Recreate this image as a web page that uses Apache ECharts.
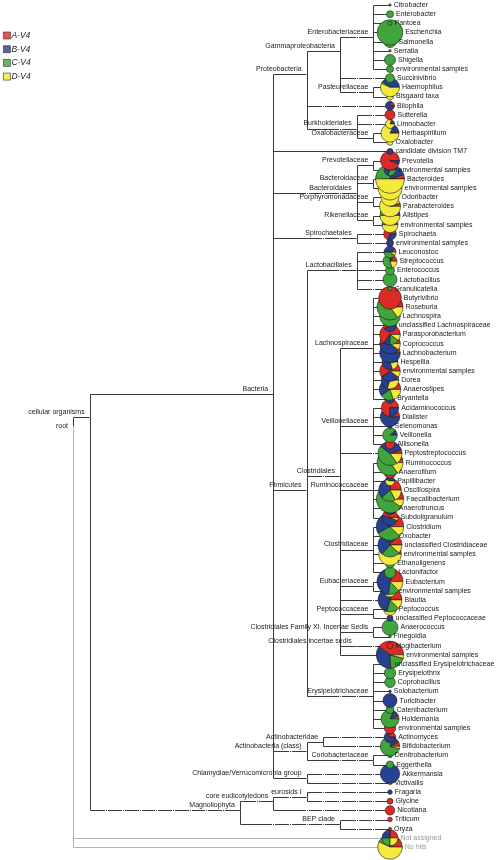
<!DOCTYPE html>
<html><head><meta charset="utf-8">
<script src="https://cdn.jsdelivr.net/npm/echarts@6/dist/echarts.min.js"></script>
<style>html,body{margin:0;padding:0;background:#fff}#c{width:502px;height:860px}</style>
</head><body><div id="c"></div>
<script>
// ---------------- data ----------------
const sampleNames = ['A-V4', 'B-V4', 'C-V4', 'D-V4'];

// internal taxa: name, parent, number of unlabeled ranks between node and its parent
const nodeNames = ['root', 'cellular organisms', 'Bacteria', 'Proteobacteria', 'Gammaproteobacteria',
  'Enterobacteriaceae', 'Pasteurellaceae', 'Burkholderiales', 'Oxalobacteraceae', 'Bacteroidales',
  'Prevotellaceae', 'Bacteroidaceae', 'Porphyromonadaceae', 'Rikenellaceae', 'Spirochaetales',
  'Firmicutes', 'Lactobacillales', 'Clostridiales', 'Lachnospiraceae', 'Veillonellaceae',
  'Ruminococcaceae', 'Clostridiaceae', 'Eubacteriaceae', 'Peptococcaceae',
  'Clostridiales Family XI. Incertae Sedis', 'Clostridiales incertae sedis', 'Erysipelotrichaceae',
  'Actinobacteria (class)', 'Actinobacteridae', 'Coriobacteriaceae', 'Chlamydiae/Verrucomicrobia group',
  'Magnoliophyta', 'core eudicotyledons', 'eurosids I', 'BEP clade'];
const nodeParents = [null, 'root', 'cellular organisms', 'Bacteria', 'Proteobacteria',
  'Gammaproteobacteria', 'Gammaproteobacteria', 'Proteobacteria', 'Burkholderiales', 'Bacteria',
  'Bacteroidales', 'Bacteroidales', 'Bacteroidales', 'Bacteroidales', 'Bacteria',
  'Bacteria', 'Firmicutes', 'Firmicutes', 'Clostridiales', 'Clostridiales',
  'Clostridiales', 'Clostridiales', 'Clostridiales', 'Clostridiales',
  'Clostridiales', 'Clostridiales', 'Firmicutes',
  'Bacteria', 'Actinobacteria (class)', 'Actinobacteria (class)', 'Bacteria',
  'cellular organisms', 'Magnoliophyta', 'core eudicotyledons', 'Magnoliophyta'];
const nodeHidden = [0, 0, 0, 0, 0,
  1, 1, 1, 0, 3,
  0, 0, 0, 0, 2,
  0, 1, 1, 0, 0,
  0, 0, 0, 0,
  0, 0, 2,
  1, 0, 2, 0,
  8, 1, 1, 4];

// leaves (top to bottom)
const leafNames = ['Citrobacter', 'Enterobacter', 'Pantoea', 'Escherichia', 'Salmonella', 'Serratia', 'Shigella', 'environmental samples',
  'Succinivibrio', 'Haemophilus', 'Bisgaard taxa', 'Bilophila', 'Sutterella', 'Limnobacter', 'Herbaspirillum', 'Oxalobacter',
  'candidate division TM7', 'Prevotella', 'environmental samples', 'Bacteroides', 'environmental samples', 'Odoribacter',
  'Parabacteroides', 'Alistipes', 'environmental samples', 'Spirochaeta', 'environmental samples',
  'Leuconostoc', 'Streptococcus', 'Enterococcus', 'Lactobacillus', 'Granulicatella',
  'Butyrivibrio', 'Roseburia', 'Lachnospira', 'unclassified Lachnospiraceae', 'Parasporobacterium', 'Coprococcus',
  'Lachnobacterium', 'Hespellia', 'environmental samples', 'Dorea', 'Anaerostipes', 'Bryantella',
  'Acidaminococcus', 'Dialister', 'Selenomonas', 'Veillonella', 'Allisonella', 'Peptostreptococcus',
  'Ruminococcus', 'Anaerofilum', 'Papillibacter', 'Oscillospira', 'Faecalibacterium', 'Anaerotruncus', 'Subdoligranulum',
  'Clostridium', 'Oxobacter', 'unclassified Clostridiaceae', 'environmental samples', 'Ethanoligenens', 'Lactonifactor',
  'Eubacterium', 'environmental samples', 'Blautia', 'Peptococcus', 'unclassified Peptococcaceae',
  'Anaerococcus', 'Finegoldia', 'Mogibacterium', 'environmental samples',
  'unclassified Erysipelotrichaceae', 'Erysipelothrix', 'Coprobacillus', 'Solobacterium', 'Turicibacter',
  'Catenibacterium', 'Holdemania', 'environmental samples',
  'Actinomyces', 'Bifidobacterium', 'Denitrobacterium', 'Eggerthella', 'Akkermansia', 'Victivallis',
  'Fragaria', 'Glycine', 'Nicotiana', 'Triticum', 'Oryza', 'Not assigned', 'No hits'];
const leafParents = ['Enterobacteriaceae', 'Enterobacteriaceae', 'Enterobacteriaceae', 'Enterobacteriaceae', 'Enterobacteriaceae', 'Enterobacteriaceae', 'Enterobacteriaceae', 'Enterobacteriaceae',
  'Gammaproteobacteria', 'Pasteurellaceae', 'Pasteurellaceae', 'Proteobacteria', 'Burkholderiales', 'Burkholderiales', 'Oxalobacteraceae', 'Oxalobacteraceae',
  'Bacteria', 'Prevotellaceae', 'Prevotellaceae', 'Bacteroidaceae', 'Bacteroidaceae', 'Porphyromonadaceae',
  'Porphyromonadaceae', 'Rikenellaceae', 'Rikenellaceae', 'Spirochaetales', 'Spirochaetales',
  'Lactobacillales', 'Lactobacillales', 'Lactobacillales', 'Lactobacillales', 'Lactobacillales',
  'Lachnospiraceae', 'Lachnospiraceae', 'Lachnospiraceae', 'Lachnospiraceae', 'Lachnospiraceae', 'Lachnospiraceae',
  'Lachnospiraceae', 'Lachnospiraceae', 'Lachnospiraceae', 'Lachnospiraceae', 'Lachnospiraceae', 'Lachnospiraceae',
  'Veillonellaceae', 'Veillonellaceae', 'Veillonellaceae', 'Veillonellaceae', 'Veillonellaceae', 'Clostridiales',
  'Ruminococcaceae', 'Ruminococcaceae', 'Ruminococcaceae', 'Ruminococcaceae', 'Ruminococcaceae', 'Ruminococcaceae', 'Ruminococcaceae',
  'Clostridiaceae', 'Clostridiaceae', 'Clostridiaceae', 'Clostridiaceae', 'Clostridiaceae', 'Clostridiaceae',
  'Eubacteriaceae', 'Eubacteriaceae', 'Clostridiales', 'Peptococcaceae', 'Peptococcaceae',
  'Clostridiales Family XI. Incertae Sedis', 'Clostridiales Family XI. Incertae Sedis', 'Clostridiales incertae sedis', 'Clostridiales',
  'Erysipelotrichaceae', 'Erysipelotrichaceae', 'Erysipelotrichaceae', 'Erysipelotrichaceae', 'Erysipelotrichaceae',
  'Erysipelotrichaceae', 'Erysipelotrichaceae', 'Erysipelotrichaceae',
  'Actinobacteridae', 'Actinobacteridae', 'Coriobacteriaceae', 'Coriobacteriaceae', 'Chlamydiae/Verrucomicrobia group', 'Chlamydiae/Verrucomicrobia group',
  'eurosids I', 'eurosids I', 'core eudicotyledons', 'BEP clade', 'BEP clade', 'root', 'root'];
const leafHidden = [0, 0, 0, 0, 0, 0, 0, 0,
  2, 0, 0, 4, 1, 1, 0, 0,
  0, 0, 0, 0, 0, 0,
  0, 0, 0, 1, 1,
  1, 1, 1, 1, 1,
  0, 0, 0, 0, 0, 0,
  0, 0, 0, 0, 0, 0,
  0, 0, 0, 0, 0, 1,
  0, 0, 0, 0, 0, 0, 0,
  0, 0, 0, 0, 0, 0,
  0, 0, 1, 0, 0,
  0, 0, 1, 0,
  0, 0, 0, 0, 0,
  0, 0, 0,
  3, 2, 0, 0, 4, 3,
  4, 4, 5, 2, 2, 0, 0];
const unassignedLeaves = ['Not assigned', 'No hits'];

// read counts per sample for each leaf (estimated from the pie areas)
const countsA = [0, 0, 0, 0, 0, 0, 0, 0,
  0, 0, 0, 16, 100, 8, 10, 0,
  0, 340, 43, 42, 0, 0,
  22, 0, 0, 111, 0,
  14, 29, 0, 0, 0,
  511, 203, 0, 95, 276, 212,
  127, 0, 254, 121, 92, 44,
  227, 56, 0, 0, 88, 29,
  34, 159, 0, 128, 105, 80, 120,
  135, 0, 130, 25, 0, 0,
  120, 0, 120, 40, 0,
  0, 0, 36, 300,
  0, 0, 0, 0, 0,
  0, 20, 130,
  40, 30, 0, 0, 0, 0,
  0, 36, 88, 21, 9, 64, 130];
const countsB = [0, 0, 0, 0, 0, 0, 0, 0,
  0, 144, 5, 65, 0, 8, 50, 0,
  36, 21, 58, 168, 58, 0,
  0, 20, 26, 48, 49,
  58, 20, 0, 0, 0,
  0, 0, 0, 64, 42, 170,
  297, 205, 127, 91, 183, 44,
  76, 320, 21, 26, 0, 202,
  203, 0, 40, 189, 53, 79, 120,
  300, 159, 236, 25, 0, 0,
  375, 10, 288, 15, 36,
  0, 0, 0, 270,
  0, 0, 0, 7, 196,
  0, 40, 0,
  90, 38, 0, 0, 376, 0,
  21, 0, 0, 0, 0, 64, 60];
const countsC = [6, 49, 16, 655, 144, 6, 121, 49,
  81, 11, 0, 0, 0, 0, 0, 0,
  0, 0, 43, 210, 0, 0,
  0, 180, 102, 0, 0,
  58, 108, 81, 196, 16,
  0, 372, 424, 0, 64, 0,
  0, 0, 0, 0, 92, 0,
  0, 0, 0, 187, 0, 259,
  338, 0, 0, 107, 518, 0, 0,
  225, 0, 144, 128, 88, 130,
  95, 89, 96, 34, 0,
  256, 7, 0, 150,
  21, 130, 112, 0, 0,
  64, 264, 0,
  0, 293, 21, 55, 0, 8,
  0, 0, 0, 0, 0, 64, 70];
const countsD = [0, 0, 0, 0, 0, 0, 0, 0,
  0, 206, 44, 0, 0, 65, 264, 36,
  0, 0, 0, 421, 518, 324,
  419, 200, 128, 0, 0,
  14, 39, 0, 0, 0,
  0, 101, 0, 0, 42, 42,
  0, 51, 43, 91, 91, 0,
  0, 0, 0, 0, 0, 86,
  101, 0, 48, 87, 75, 0, 16,
  91, 0, 66, 333, 0, 0,
  86, 60, 72, 70, 0,
  0, 0, 0, 31,
  0, 0, 0, 0, 0,
  0, 0, 0,
  0, 15, 0, 0, 0, 8,
  0, 0, 0, 0, 0, 64, 345];

// ---------------- layout from the tree ----------------
const sampleColors = ['#dc2b25', '#28418f', '#40a63c', '#f3ea3d'];
const idxOf = {}; nodeNames.forEach((n, i) => idxOf[n] = i);
const kids = nodeNames.map(() => []);
leafParents.forEach((p, i) => kids[idxOf[p]].push({ leaf: true, i }));
nodeParents.forEach((p, i) => { if (p !== null) kids[idxOf[p]].push({ leaf: false, i }); });
const H = [], LO = [], HI = [];
function walk(i) {
  let h = 0, lo = Infinity, hi = -Infinity;
  for (const k of kids[i]) {
    if (k.leaf) { h = Math.max(h, 1 + leafHidden[k.i]); lo = Math.min(lo, k.i); hi = Math.max(hi, k.i); }
    else { walk(k.i); h = Math.max(h, H[k.i] + 1 + nodeHidden[k.i]); lo = Math.min(lo, LO[k.i]); hi = Math.max(hi, HI[k.i]); }
  }
  H[i] = h; LO[i] = lo; HI[i] = hi;
}
walk(0);
const NY = i => (LO[i] + HI[i]) / 2;
const maxH = H[0];
const nLeaves = leafNames.length;

const edgeData = [], dotData = [];
leafParents.forEach((p, i) => {
  const pi = idxOf[p];
  const gray = unassignedLeaves.includes(leafNames[i]) ? 1 : 0;
  edgeData.push([H[pi], NY(pi), 0, i, gray]);
  for (let j = 1; j <= leafHidden[i]; j++) dotData.push([j, i]);
});
nodeParents.forEach((p, i) => {
  if (p === null) return;
  const pi = idxOf[p];
  edgeData.push([H[pi], NY(pi), H[i], NY(i), 0]);
  for (let j = 1; j <= nodeHidden[i]; j++) dotData.push([H[i] + j, NY(i)]);
});
edgeData.sort((a, b) => b[4] - a[4]);
const nodeLabelData = nodeNames.map((n, i) => [H[i], NY(i), n, nodeParents[i] === null ? 1 : 0]);
const pieData = leafNames.map((n, i) => [0, i, countsA[i], countsB[i], countsC[i], countsD[i], n,
  unassignedLeaves.includes(n) ? 1 : 0]);
const pieDraw = pieData.slice().reverse(); // upper pies end up on top

// ---------------- chart ----------------
const FONT = '"Liberation Sans", Arial, sans-serif';
const crisp = v => Math.round(v) + 0.5;
const chart = echarts.init(document.getElementById('c'));
const radius = (d) => Math.sqrt(d[2] + d[3] + d[4] + d[5]) / 2;

const series = [
  {
    type: 'custom', name: 'edges', silent: true, clip: false, z: 1,
    renderItem(params, api) {
      const p = api.coord([api.value(0), api.value(1)]);
      const c = api.coord([api.value(2), api.value(3)]);
      const gray = api.value(4) === 1;
      return {
        type: 'polyline',
        shape: { points: [[crisp(p[0]), crisp(p[1])], [crisp(p[0]), crisp(c[1])], [c[0], crisp(c[1])]] },
        style: { stroke: gray ? '#b4b4b4' : '#3a3a3a', lineWidth: 1, fill: null }
      };
    },
    data: edgeData
  },
  {
    type: 'custom', name: 'hidden', silent: true, clip: false, z: 2,
    renderItem(params, api) {
      const p = api.coord([api.value(0), api.value(1)]);
      return {
        type: 'group', children: [
          { type: 'rect', shape: { x: Math.round(p[0]) - 1, y: Math.round(p[1]) - 1, width: 3, height: 3 }, style: { fill: '#fff' } },
          { type: 'rect', shape: { x: Math.round(p[0]), y: Math.round(p[1]), width: 1, height: 1 }, style: { fill: '#3a3a3a' } }
        ]
      };
    },
    data: dotData
  },
  {
    type: 'custom', name: 'pies', silent: true, clip: false, z: 3,
    renderItem(params, api) {
      const d = pieDraw[params.dataIndex];
      const c = api.coord([d[0], d[1]]);
      const tot = d[2] + d[3] + d[4] + d[5];
      const r = radius(d);
      const children = [];
      let a = 0;
      for (let s = 0; s < 4; s++) {
        const v = d[2 + s];
        if (!v) continue;
        const da = v / tot * Math.PI * 2;
        children.push({
          type: 'sector',
          shape: { cx: c[0], cy: c[1], r: r, r0: 0, startAngle: -a, endAngle: -(a + da), clockwise: false },
          style: { fill: sampleColors[s], stroke: '#1a1a1a', lineWidth: 0.6 }
        });
        a += da;
      }
      return { type: 'group', children };
    },
    data: pieDraw
  },
  {
    type: 'custom', name: 'leafLabels', silent: true, clip: false, z: 4,
    renderItem(params, api) {
      const d = pieData[params.dataIndex];
      const c = api.coord([d[0], d[1]]);
      const r = radius(d);
      return {
        type: 'text',
        style: {
          x: c[0] + r + 2.5, y: c[1], text: d[6], align: 'left', verticalAlign: 'middle',
          font: '7px ' + FONT, fill: d[7] ? '#9a9a9a' : '#1a1a1a'
        }
      };
    },
    data: pieData
  },
  {
    type: 'custom', name: 'nodeLabels', silent: true, clip: false, z: 4,
    renderItem(params, api) {
      const d = nodeLabelData[params.dataIndex];
      const p = api.coord([d[0], d[1]]);
      return {
        type: 'text',
        style: {
          x: p[0] - 5, y: p[1] - (d[3] ? 0 : 5), text: d[2], align: 'right', verticalAlign: 'middle',
          font: '7px ' + FONT, fill: '#1a1a1a'
        }
      };
    },
    data: nodeLabelData
  }
];
sampleNames.forEach((n, s) => series.push({ type: 'scatter', name: n, data: [], itemStyle: { color: sampleColors[s] } }));

chart.setOption({
  animation: false,
  grid: { left: 73, right: 112, top: 5, bottom: 13 },
  xAxis: { type: 'value', min: 0, max: maxH, inverse: true, show: false },
  yAxis: { type: 'value', min: 0, max: nLeaves - 1, inverse: true, show: false },
  legend: {
    data: sampleNames, orient: 'vertical', left: 3, top: 31, padding: 0, icon: 'rect',
    itemWidth: 7, itemHeight: 7, itemGap: 4.7, selectedMode: false,
    itemStyle: { borderColor: '#333', borderWidth: 0.8 },
    textStyle: { fontFamily: FONT, fontStyle: 'italic', fontSize: 8.5, color: '#222', padding: [0, 0, 0, -4] }
  },
  series
});
</script>
</body></html>
